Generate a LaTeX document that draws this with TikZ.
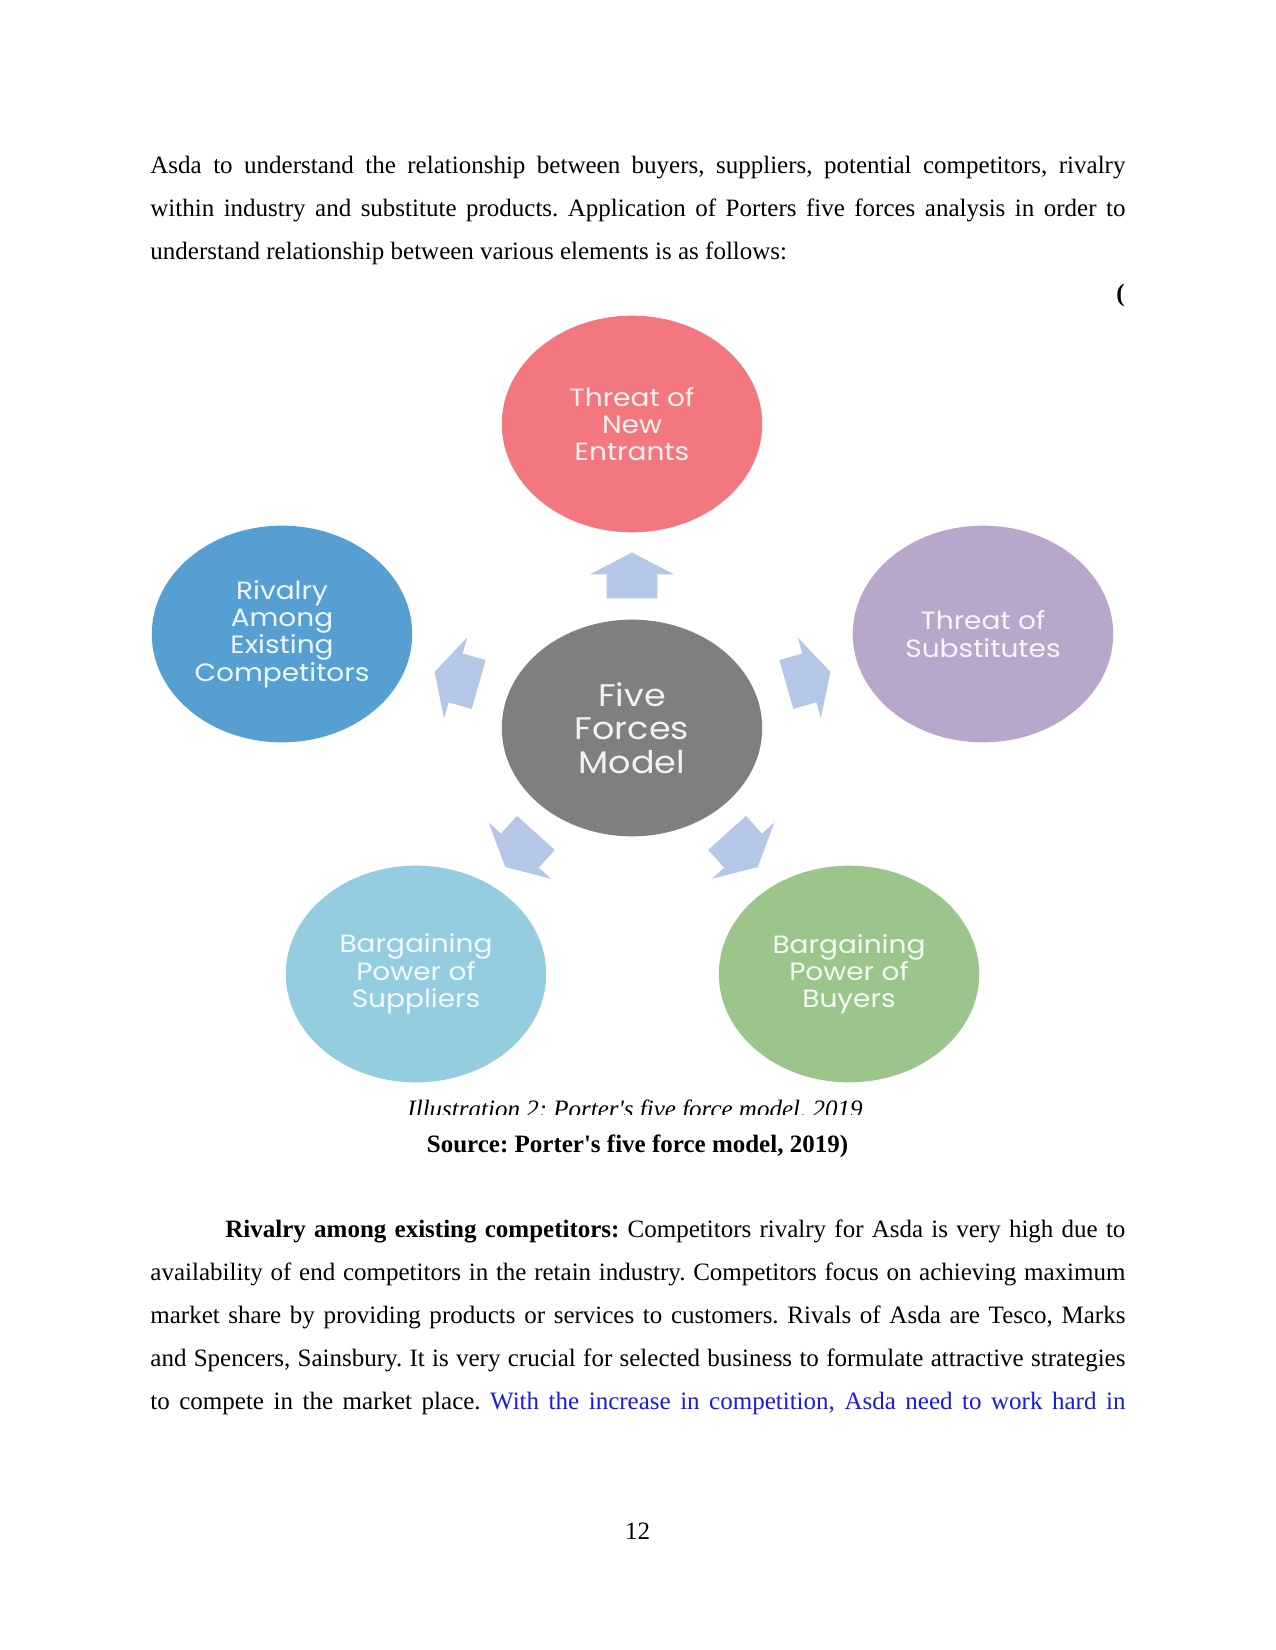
\documentclass[tikz,border=0pt]{standalone}
\usepackage{fontspec}
\setmainfont{Liberation Serif}
\newfontfamily\gothic[FakeStretch=1.12]{Poppins}
\usetikzlibrary{shapes.geometric, shapes.arrows}
\definecolor{entrantred}{HTML}{F2777E}
\definecolor{rivalblue}{HTML}{569FD3}
\definecolor{subpurple}{HTML}{B8A6CB}
\definecolor{modelgray}{HTML}{7F7F7F}
\definecolor{supplierblue}{HTML}{93CDDF}
\definecolor{buyergreen}{HTML}{9CC58C}
\definecolor{pushblue}{HTML}{B4C7E7}
\definecolor{linkblue}{HTML}{1A1AE6}
\frenchspacing
\tikzset{
  force/.style={
    ellipse, fill=#1, minimum width=125pt, minimum height=104pt,
    inner sep=0pt, align=center, text=white, text opacity=0.9,
    font=\gothic\fontsize{12}{13.1}\selectfont
  },
  push/.style={
    single arrow, fill=pushblue, draw=none, minimum height=22pt,
    inner xsep=0pt, inner ysep=12pt, single arrow head extend=8pt,
    single arrow tip angle=125, rotate=#1
  },
  para/.style={
    anchor=north west, inner sep=0pt, text width=468pt, align=justify,
    font=\fontsize{12}{20.64}\selectfont
  }
}
\begin{document}
\begin{tikzpicture}[x=0.48pt, y=-0.48pt]
    \useasboundingbox (0,0) rectangle (1275,1650);
    \fill[white] (0,0) rectangle (1275,1650);

    % Text above the figure
    \node[para] (intro) at (150,156)
      {Asda to understand the relationship between buyers, suppliers, potential competitors, rivalry\linebreak
       within industry and substitute products. Application of Porters five forces analysis in order to\linebreak
       understand relationship between various elements is as follows:};
    \node[anchor=base east, inner sep=0pt, font=\fontsize{12}{14}\selectfont\bfseries]
      (open) at (1125,302) {(};

    % The five forces
    \node[force=entrantred] (entrants) at (632,424) {Threat of\\New\\Entrants};
    \node[force=rivalblue] (rivalry) at (282,634) {Rivalry\\Among\\Existing\\Competitors};
    \node[force=subpurple] (substitutes) at (983,634) {Threat of\\Substitutes};
    \node[force=modelgray, font=\gothic\fontsize{15}{16.2}\selectfont]
      (model) at (632,728) {Five\\Forces\\Model};
    \node[force=supplierblue] (suppliers) at (416,974) {Bargaining\\Power of\\Suppliers};
    \node[force=buyergreen] (buyers) at (849,974) {Bargaining\\Power of\\Buyers};

    % Arrows out of the centre
    \node[push=90] (toentrants) at (632,582) {};
    \node[push=164] (torivalry) at (463,680) {};
    \node[push=16] (tosubstitutes) at (802,680) {};
    \node[push=228] (tosuppliers) at (525,845) {};
    \node[push=312] (tobuyers) at (738,845) {};

    % Caption, cut off by the picture frame
    \begin{scope}
      \clip (300,1080) rectangle (1000,1114);
      \node[anchor=base, inner sep=0pt, font=\fontsize{12}{14}\selectfont\itshape]
        (caption) at (635,1117) {Illustration 2: Porter\textquotesingle s five force model, 2019};
    \end{scope}
    \node[anchor=base, inner sep=0pt, font=\fontsize{12}{14}\selectfont\bfseries]
      (source) at (637.5,1152) {Source: Porter\textquotesingle s five force model, 2019)};

    % Text below the figure
    \node[para] (rivaltext) at (150,1219)
      {\hspace*{36pt}\textbf{Rivalry among existing competitors:} Competitors rivalry for Asda is very high due to\linebreak
       availability of end competitors in the retain industry. Competitors focus on achieving maximum\linebreak
       market share by providing products or services to customers. Rivals of Asda are Tesco, Marks\linebreak
       and Spencers, Sainsbury. It is very crucial for selected business to formulate attractive strategies\linebreak
       to compete in the market place. {\color{linkblue}With the increase in competition, Asda need to work hard in}\linebreak\mbox{}};

    % Page number
    \node[anchor=base, inner sep=0pt, font=\fontsize{12}{14}\selectfont]
      (pagenum) at (637.5,1539) {12};
\end{tikzpicture}
\end{document}
